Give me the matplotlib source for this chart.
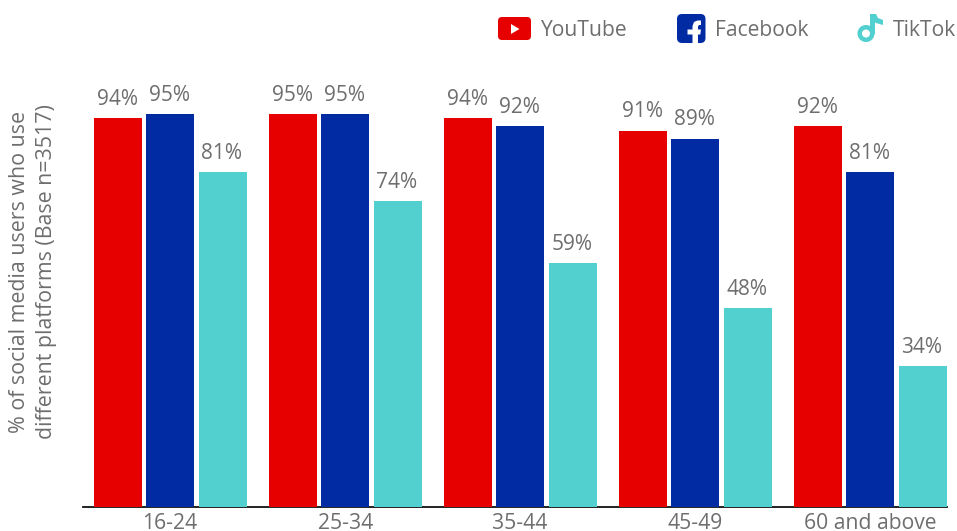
import matplotlib
matplotlib.use("Agg")
import matplotlib.pyplot as plt
import numpy as np
from matplotlib.patches import FancyBboxPatch, Polygon, Wedge, Rectangle

age_groups = ["16-24", "25-34", "35-44", "45-49", "60 and above"]
youtube = [94, 95, 94, 91, 92]
facebook = [95, 95, 92, 89, 81]
tiktok = [81, 74, 59, 48, 34]
series_names = ["YouTube", "Facebook", "TikTok"]
series_colors = ["#E60000", "#002BA3", "#52CFCF"]
ylabel = "% of social media users who use\ndifferent platforms (Base n=3517)"

W, H = 957, 531
TEXT = "#6E6E6E"
plt.rcParams["font.family"] = ["Open Sans", "DejaVu Sans"]

fig = plt.figure(figsize=(W / 100, H / 100), dpi=100, facecolor="white")
left, right, top, bottom = 83, 947, 60, 507
ax = fig.add_axes([left / W, 1 - bottom / H, (right - left) / W, (bottom - top) / H])

period = 175.0
bar_w = 48 / period
step = 52.4 / period
x = np.arange(len(age_groups))
for i, (vals, col) in enumerate(zip([youtube, facebook, tiktok], series_colors)):
    pos = x + (i - 1) * step
    ax.bar(pos, vals, width=bar_w, color=col, linewidth=0, zorder=2)
    for p, v in zip(pos, vals):
        ax.annotate(f"{v}%", (p, v), xytext=(-0.5, 6), textcoords="offset points",
                    ha="center", va="bottom", fontsize=15, color=TEXT)

ax.set_xlim(-0.498, 4.439)
ax.set_ylim(0, (bottom - top) / 4.137)
for s in ["top", "right", "left"]:
    ax.spines[s].set_visible(False)
ax.spines["bottom"].set_color("#111111")
ax.spines["bottom"].set_linewidth(1.3)
ax.spines["bottom"].set_zorder(1)
ax.set_yticks([])
ax.set_xticks(x)
ax.set_xticklabels(age_groups, fontsize=15.2, color=TEXT)
ax.tick_params(axis="x", length=0, pad=4.5)

fig.text(33 / W, 1 - 272 / H, ylabel, rotation=90, ha="center", va="center",
         fontsize=15.4, color=TEXT, linespacing=1.35, multialignment="center")

# legend overlay in pixel coordinates
ov = fig.add_axes([0, 0, 1, 1], facecolor="none")
ov.set_xlim(0, W)
ov.set_ylim(H, 0)
ov.axis("off")

ov.add_patch(FancyBboxPatch((498, 17), 33, 23, boxstyle="round,pad=0,rounding_size=4",
                            fc=series_colors[0], ec="none"))
ov.add_patch(Polygon([[511, 24], [511, 34], [519.5, 29]], fc="white", ec="none"))
ov.text(540.5, 30, series_names[0], fontsize=15.2, color=TEXT, va="center", ha="left")

ov.add_patch(FancyBboxPatch((677, 14), 28.5, 29, boxstyle="round,pad=0,rounding_size=5",
                            fc=series_colors[1], ec="none"))
ov.add_patch(Polygon([[692.5, 43], [692.5, 34.5], [687.5, 34.5], [687.5, 29.5], [692.5, 29.5],
                      [692.5, 26], [694, 22], [697.5, 20.5], [701, 20.5], [701, 25],
                      [699, 25], [698, 26.5], [698, 29.5], [701, 29.5], [700.3, 34.5],
                      [698, 34.5], [698, 43]], fc="white", ec="none"))
ov.text(715, 30, series_names[1], fontsize=15.2, color=TEXT, va="center", ha="left")

c = series_colors[2]
ov.add_patch(Wedge((866, 33.5), 8.5, 0, 360, width=4.5, fc=c, ec="none"))
ov.add_patch(Rectangle((870, 14), 4.5, 20, fc=c, ec="none"))
ov.add_patch(Polygon([[872, 14], [876, 14], [878, 18], [883, 20], [883, 25], [876, 23], [873, 21]],
                     fc=c, ec="none"))
ov.text(892.5, 30, series_names[2], fontsize=15.2, color=TEXT, va="center", ha="left")

fig.savefig("out.png", dpi=100)
